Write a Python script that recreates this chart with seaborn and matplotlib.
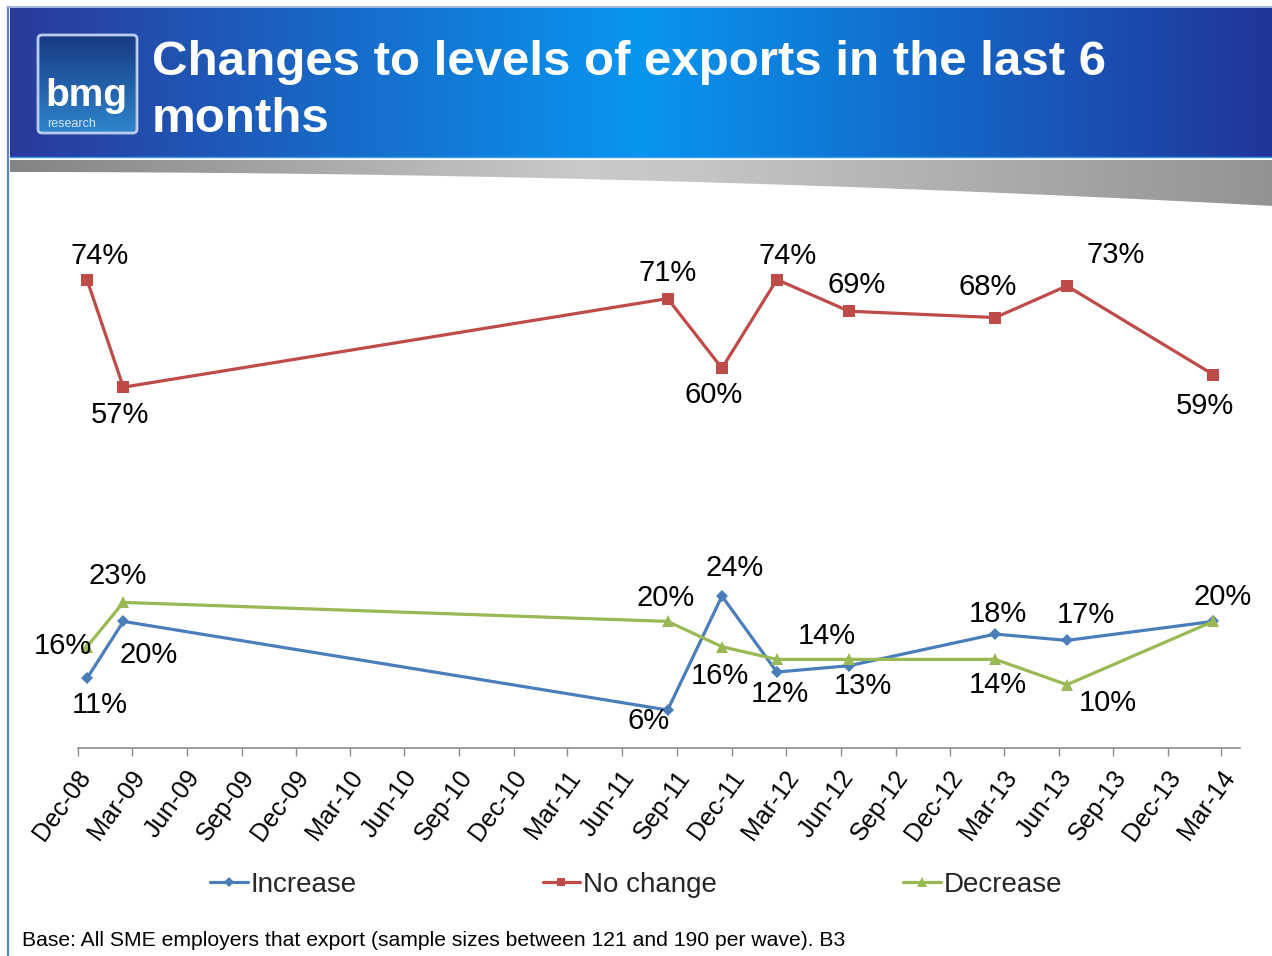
import numpy as np
import pandas as pd
import matplotlib
matplotlib.use("Agg")
import matplotlib.pyplot as plt
import matplotlib.dates as mdates
from matplotlib.lines import Line2D
from matplotlib.patches import FancyBboxPatch, Polygon
from matplotlib.colors import LinearSegmentedColormap
from matplotlib.transforms import ScaledTranslation
import seaborn as sns

# Survey waves (middle of each fieldwork month)
wave_dates = ["2008-12-16", "2009-02-15", "2011-08-16", "2011-11-15", "2012-02-15",
              "2012-06-15", "2013-02-15", "2013-06-15", "2014-02-15"]

# Share of SME exporters (%) reporting each change in exports
increase = [11, 20, 6, 24, 12, 13, 18, 17, 20]
no_change = [74, 57, 71, 60, 74, 69, 68, 73, 59]
decrease = [16, 23, 20, 16, 14, 14, 14, 10, 20]

series_names = ["Increase", "No change", "Decrease"]
series_values = [increase, no_change, decrease]

axis_start, axis_end = "2008-12-01", "2014-04-01"

title_lines = ["Changes to levels of exports in the last 6", "months"]
footnote = "Base: All SME employers that export (sample sizes between 121 and 190 per wave). B3"

# Line styling per series
colors = {"Increase": "#4A7EBB", "No change": "#BE4B48", "Decrease": "#98B954"}
markers = {"Increase": "D", "No change": "s", "Decrease": "^"}
marker_sizes = {"Increase": 6.2, "No change": 8, "Decrease": 9}

# Data label offsets in pixels (dx, dy); None hides a label that would overlap
label_offsets = {
    "Increase": [(13, -27), (25, -34), (-19, -11), (13, 28), (3, -22),
                 (14, -20), (3, 20), (19, 25), (9, 24)],
    "No change": [(13, 24), (-3, -28), (0, 26), (-8, -27), (11, 24),
                  (8, 26), (-8, 31), (49, 31), (-8, -31)],
    "Decrease": [(-24, 1), (-6, 26), (-2, 23), (-2, -29), None,
                 (-22, 23), (3, -26), (41, -18), None],
}

sns.set_theme(style="white")
plt.rcParams["font.family"] = ["Liberation Sans", "DejaVu Sans"]

W, H = 1272, 956
fig = plt.figure(figsize=(W / 100, H / 100), dpi=100, facecolor="white")

# ---- slide background: header banner, grey swoosh, logo, border ----
bg = fig.add_axes([0, 0, 1, 1])
bg.set_xlim(0, W)
bg.set_ylim(H, 0)
bg.axis("off")
bg.set_zorder(0)

banner_cmap = LinearSegmentedColormap.from_list(
    "banner", [(0, "#2A3A9C"), (0.5, "#0896F0"), (1, "#21359A")])
bg.imshow(np.linspace(0, 1, 512)[None, :], cmap=banner_cmap, aspect="auto",
          extent=(10, W, 157, 8), interpolation="bicubic", zorder=1)
bg.plot([10, W], [156.5, 156.5], color="#3C9BEA", lw=1, zorder=2)

grey_cmap = LinearSegmentedColormap.from_list(
    "swoosh", [(0, "#848484"), (0.45, "#CACACA"), (0.55, "#C5C5C5"), (1, "#939393")])
xs = np.linspace(10, W, 300)
ys = 172 + 2.13e-5 * (xs - 10) ** 2
swoosh = Polygon([(10, 160), (W, 160)] + list(zip(xs[::-1], ys[::-1])),
                 closed=True, facecolor="none", edgecolor="none", transform=bg.transData)
bg.add_patch(swoosh)
sw = bg.imshow(np.linspace(0, 1, 512)[None, :], cmap=grey_cmap, aspect="auto",
               extent=(10, W, 207, 160), interpolation="bicubic", zorder=1)
sw.set_clip_path(swoosh)

bg.plot([8, 8], [7, H], color="#5A85C6", lw=1.6, zorder=3)
bg.plot([8, W], [7, 7], color="#8EA9D8", lw=1.2, zorder=3)

logo_cmap = LinearSegmentedColormap.from_list("logo", ["#173A82", "#2E85CD"])
logo_box = FancyBboxPatch((38, 35), 99, 98, boxstyle="round,pad=0,rounding_size=4",
                          facecolor="none", edgecolor="#B9CDEA", lw=2,
                          transform=bg.transData, zorder=4)
bg.add_patch(logo_box)
lg = bg.imshow(np.linspace(0, 1, 256)[:, None], cmap=logo_cmap, aspect="auto",
               extent=(38, 137, 133, 35), zorder=3)
lg.set_clip_path(logo_box)
bg.text(45, 106, "bmg", color="white", fontsize=28, fontweight="bold",
        ha="left", va="baseline", zorder=5)
bg.text(47, 127, "research", color="#D3E5F7", fontsize=9,
        ha="left", va="baseline", zorder=5)

bg.text(152, 75, title_lines[0], color="white", fontsize=35.5, fontweight="bold",
        ha="left", va="baseline", zorder=5)
bg.text(152, 132, title_lines[1], color="white", fontsize=35.5, fontweight="bold",
        ha="left", va="baseline", zorder=5)

# ---- line chart ----
left, right = 78 / W, 1240 / W
bottom, top = 1 - 748 / H, 1 - 241.6 / H
ax = fig.add_axes([left, bottom, right - left, top - bottom])
ax.set_zorder(2)
ax.patch.set_alpha(0)

dates = pd.to_datetime(wave_dates)
for name, vals in zip(series_names, series_values):
    sns.lineplot(x=dates, y=vals, ax=ax, color=colors[name], marker=markers[name],
                 markersize=marker_sizes[name], markeredgewidth=0, linewidth=2.3,
                 legend=False, zorder=3)
    for d, v, off in zip(dates, vals, label_offsets[name]):
        if off is None:
            continue
        ax.annotate(f"{v}%", (d, v), xytext=off, textcoords="offset pixels",
                    ha="center", va="center", fontsize=21, color="black",
                    annotation_clip=False, zorder=4)

ax.set_xlim(pd.Timestamp(axis_start), pd.Timestamp(axis_end))
ax.set_ylim(0, 80)
ax.xaxis.set_major_locator(mdates.MonthLocator(bymonth=[3, 6, 9, 12], bymonthday=1))
ax.xaxis.set_major_formatter(mdates.DateFormatter("%b-%y"))
ax.set_yticks([])
ax.set_xlabel("")
ax.set_ylabel("")
for side in ["top", "right", "left"]:
    ax.spines[side].set_visible(False)
ax.spines["bottom"].set_color("#8C8C8C")
ax.spines["bottom"].set_linewidth(1.2)
ax.tick_params(axis="x", bottom=True, length=6, width=1, color="#8C8C8C",
               labelsize=18, labelcolor="black", pad=12, direction="out")

fig.canvas.draw()
shift = ScaledTranslation(8 / 100, 0, fig.dpi_scale_trans)
for lab in ax.get_xticklabels():
    lab.set_rotation(54)
    lab.set_ha("right")
    lab.set_va("center")
    lab.set_rotation_mode("anchor")
    lab.set_transform(lab.get_transform() + shift)

handles = [Line2D([], [], color=colors[n], marker=markers[n], markersize=marker_sizes[n] * 0.8,
                  markeredgewidth=0, linewidth=2.3) for n in series_names]
fig.legend(handles, series_names, loc="center", bbox_to_anchor=(0.5, 1 - 885 / H), ncol=3,
           frameon=False, prop={"size": 20}, handlelength=1.35, handletextpad=0.1,
           columnspacing=6.7, borderaxespad=0)

fig.text(22 / W, 1 - 941 / H, footnote, fontsize=15.2, ha="left", va="center", color="black")

fig.savefig("out.png", dpi=100, facecolor="white")
